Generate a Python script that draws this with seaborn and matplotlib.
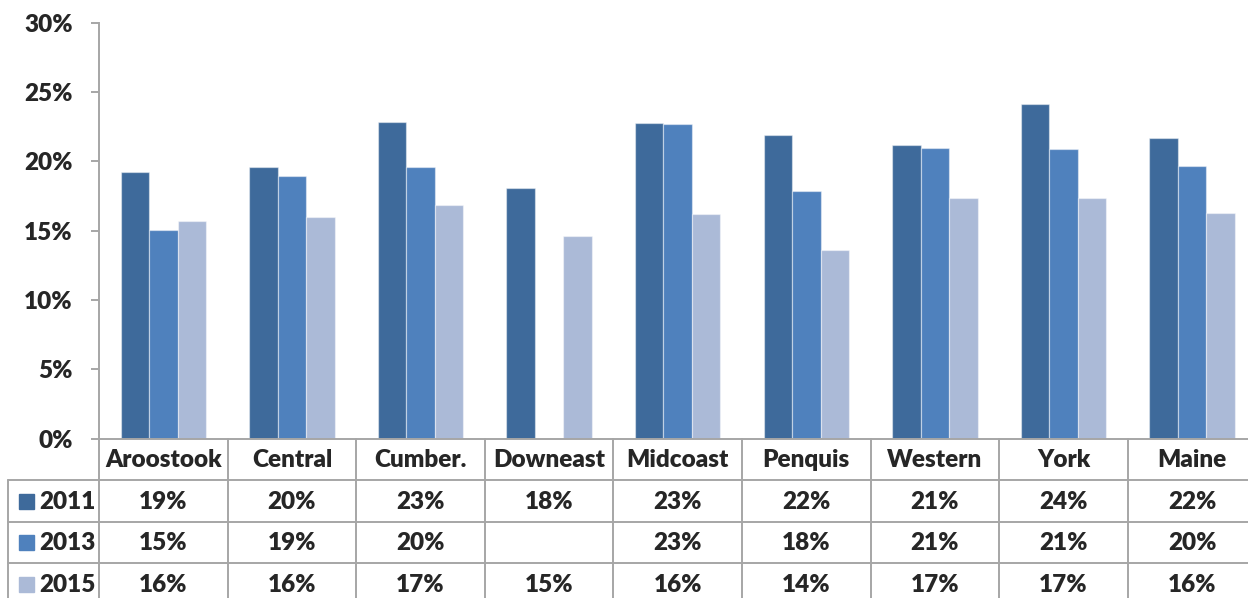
import numpy as np
import pandas as pd
import matplotlib
matplotlib.use("Agg")
import matplotlib.pyplot as plt
import seaborn as sns

# Share of respondents by district and survey year (percent)
districts = ["Aroostook", "Central", "Cumber.", "Downeast", "Midcoast",
             "Penquis", "Western", "York", "Maine"]
years = ["2011", "2013", "2015"]
pct_2011 = [19.2, 19.55, 22.85, 18.05, 22.75, 21.86, 21.16, 24.15, 21.67]
pct_2013 = [15.07, 18.9, 19.55, np.nan, 22.68, 17.86, 20.95, 20.87, 19.65]
pct_2015 = [15.7, 16.0, 16.87, 14.58, 16.17, 13.57, 17.38, 17.38, 16.25]
y_ticks = [0, 5, 10, 15, 20, 25, 30]

series = {"2011": pct_2011, "2013": pct_2013, "2015": pct_2015}
colors = {"2011": "#3E6A9B", "2013": "#4F81BD", "2015": "#ABBAD7"}

df = pd.DataFrame(
    [(d, y, v) for y, vals in series.items() for d, v in zip(districts, vals)],
    columns=["district", "year", "pct"],
)

sns.set_style("white")
plt.rcParams["font.family"] = ["Lato", "DejaVu Sans"]
plt.rcParams["font.weight"] = "heavy"

W, H = 1248, 598
fig = plt.figure(figsize=(W / 100, H / 100), dpi=100)

# pixel geometry of the plot area
x0_px, base_px, top_px = 99, 438.7, 22.5
cat_px = 128.6
right_px = x0_px + cat_px * len(districts)
row_px = 41.5
n_rows = 4

ax = fig.add_axes([x0_px / W, (H - base_px) / H,
                   (right_px - x0_px) / W, (base_px - top_px) / H])
sns.barplot(data=df, x="district", y="pct", hue="year", order=districts,
            hue_order=years, palette=colors, saturation=1, width=0.665,
            errorbar=None, edgecolor=(1, 1, 1, 0.45), linewidth=0.9,
            legend=False, ax=ax)

grid_c = "#A6A6A6"
ax.set_xlim(-0.5, len(districts) - 0.5)
ax.set_ylim(0, 30)
ax.set_yticks(y_ticks)
ax.set_yticklabels([f"{t}%" for t in y_ticks])
ax.set_xticks([])
ax.set_xlabel("")
ax.set_ylabel("")
for s in ["top", "right"]:
    ax.spines[s].set_visible(False)
for s in ["left", "bottom"]:
    ax.spines[s].set_color(grid_c)
    ax.spines[s].set_linewidth(1.4)
ax.tick_params(axis="y", direction="out", length=6, width=1.4, color=grid_c,
               pad=13, labelsize=17.5, left=True)
for lab in ax.get_yticklabels():
    lab.set_fontweight("heavy")

# data table beneath the plot, sharing the category positions
tab = fig.add_axes([x0_px / W, (H - base_px - n_rows * row_px) / H,
                    (right_px - x0_px) / W, n_rows * row_px / H])
tab.set_xlim(-0.5, len(districts) - 0.5)
tab.set_ylim(n_rows, 0)
tab.axis("off")

left_col = -0.5 + (8 - x0_px) / cat_px
n = len(districts)
lw = 1.4
for r in range(1, n_rows + 1):
    tab.plot([left_col, n - 0.5], [r, r], color=grid_c, lw=lw, clip_on=False)
for k in range(n + 1):
    tab.plot([k - 0.5, k - 0.5], [0, n_rows], color=grid_c, lw=lw, clip_on=False)
tab.plot([left_col, left_col], [1, n_rows], color=grid_c, lw=lw, clip_on=False)

fs = 17.5
for i, d in enumerate(districts):
    tab.text(i, 0.52, d, ha="center", va="center", fontsize=fs,
             fontweight="heavy", clip_on=False)

key_x = -0.5 + (25.5 - x0_px) / cat_px
lab_x = -0.5 + (39 - x0_px) / cat_px
for r, y in enumerate(years, start=1):
    tab.plot([key_x], [r + 0.5], marker="s", ms=10.8, color=colors[y],
             mec=colors[y], clip_on=False)
    tab.text(lab_x, r + 0.52, y, ha="left", va="center", fontsize=fs,
             fontweight="heavy", clip_on=False)
    for i, v in enumerate(series[y]):
        if not np.isnan(v):
            tab.text(i, r + 0.52, f"{v:.0f}%", ha="center", va="center",
                     fontsize=fs, fontweight="heavy", clip_on=False)

fig.savefig("out.png", dpi=100)
